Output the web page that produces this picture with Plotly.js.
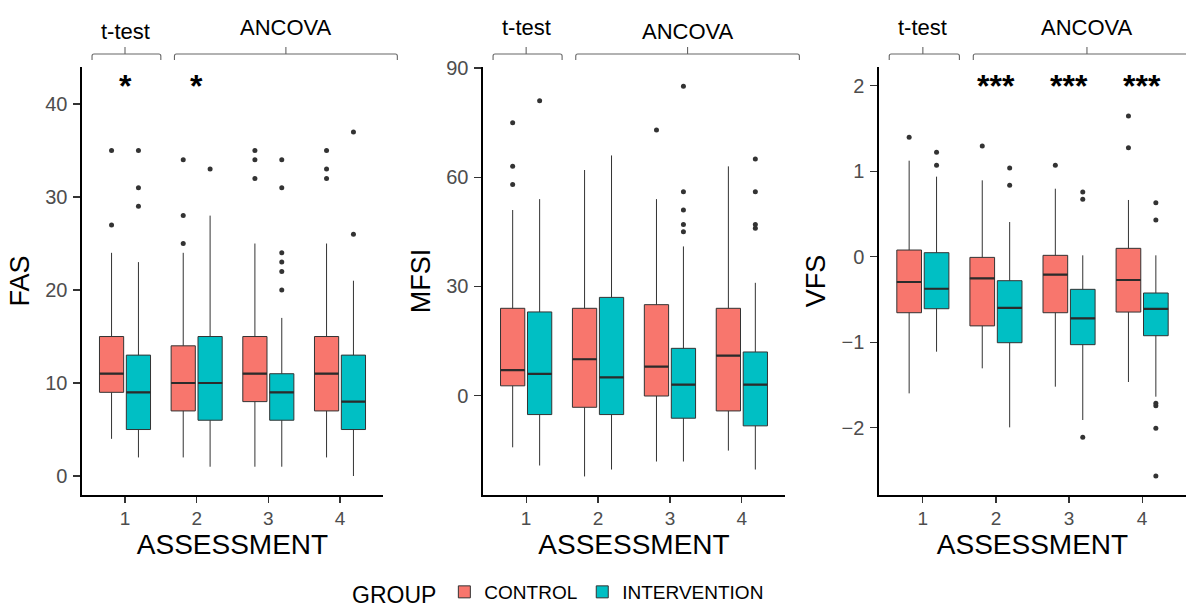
<!DOCTYPE html>
<html><head><meta charset="utf-8">
<script src="https://cdn.plot.ly/plotly-3.0.1.min.js"></script>
<style>html,body{margin:0;padding:0;background:#fff}#chart{width:1186px;height:607px}</style>
</head><body><div id="chart"></div>
<script>
// ---------- data ----------
const assessments = [1, 2, 3, 4];
const groupNames = ['CONTROL', 'INTERVENTION'];

// FAS
const fasControlQ1 = [9, 7, 8, 7];
const fasControlMedian = [11, 10, 11, 11];
const fasControlQ3 = [15, 14, 15, 15];
const fasControlLower = [4, 2, 1, 2];
const fasControlUpper = [24, 24, 25, 25];
const fasControlOutliers = [[35, 27], [34, 28, 25], [35, 34, 32], [35, 33, 32]];
const fasInterQ1 = [5, 6, 6, 5];
const fasInterMedian = [9, 10, 9, 8];
const fasInterQ3 = [13, 15, 11, 13];
const fasInterLower = [2, 1, 1, 0];
const fasInterUpper = [23, 28, 17, 21];
const fasInterOutliers = [[35, 31, 29], [33], [34, 31, 24, 23, 22, 20], [37, 26]];
const fasSignif = ['*', '*', '', ''];

// MFSI
const mfsiControlQ1 = [2.7, -3.2, -0.1, -4.2];
const mfsiControlMedian = [7, 10, 8, 11];
const mfsiControlQ3 = [24, 24, 25, 24];
const mfsiControlLower = [-14.2, -22.2, -18.1, -15.1];
const mfsiControlUpper = [51, 62, 54, 63];
const mfsiControlOutliers = [[75, 63, 58], [], [73], []];
const mfsiInterQ1 = [-5.2, -5.2, -6.2, -8.3];
const mfsiInterMedian = [6, 5, 3, 3];
const mfsiInterQ3 = [23, 27, 13, 12];
const mfsiInterLower = [-19.2, -20.3, -18.1, -20.3];
const mfsiInterUpper = [54, 66, 41, 31];
const mfsiInterOutliers = [[81], [], [85, 56, 51, 47, 45], [65, 56, 47, 46]];
const mfsiSignif = ['', '', '', ''];

// VFS
const vfsControlQ1 = [-0.656, -0.81, -0.656, -0.648];
const vfsControlMedian = [-0.296, -0.254, -0.21, -0.273];
const vfsControlQ3 = [0.078, -0.008, 0.016, 0.098];
const vfsControlLower = [-1.60, -1.307, -1.522, -1.467];
const vfsControlUpper = [1.124, 0.894, 0.796, 0.664];
const vfsControlOutliers = [[1.398], [1.296], [1.07], [1.648, 1.277]];
const vfsInterQ1 = [-0.609, -1.007, -1.03, -0.925];
const vfsInterMedian = [-0.375, -0.60, -0.722, -0.612];
const vfsInterQ3 = [0.047, -0.281, -0.382, -0.425];
const vfsInterLower = [-1.112, -1.998, -1.912, -1.639];
const vfsInterUpper = [0.937, 0.406, 0.016, 0.016];
const vfsInterOutliers = [[1.222, 1.07], [1.039, 0.836], [0.758, 0.672, -2.115], [0.632, 0.43, -1.717, -1.745, -2.009, -2.568]];
const vfsSignif = ['', '***', '***', '***'];

const testLabels = ['t-test', 'ANCOVA'];

// ---------- styling / layout helpers ----------
const W = 1186, H = 607;
const FONT = 'Liberation Sans, Arial, sans-serif';
const fillColors = ['#F8766D', '#00BFC4'];
const px = v => v / W;
const py = v => 1 - v / H;

const panels = [
  { key: 'FAS', title: 'FAS', xd: [82, 383], range: [-2.04, 43.98], tickvals: [0, 10, 20, 30, 40], starY: 42.6, signif: fasSignif,
    ctrl: [fasControlQ1, fasControlMedian, fasControlQ3, fasControlLower, fasControlUpper, fasControlOutliers],
    intv: [fasInterQ1, fasInterMedian, fasInterQ3, fasInterLower, fasInterUpper, fasInterOutliers],
    labY: [31, 27] },
  { key: 'MFSI', title: 'MFSI', xd: [483, 785], range: [-27.3, 90.3], tickvals: [0, 30, 60, 90], starY: 86, signif: mfsiSignif,
    ctrl: [mfsiControlQ1, mfsiControlMedian, mfsiControlQ3, mfsiControlLower, mfsiControlUpper, mfsiControlOutliers],
    intv: [mfsiInterQ1, mfsiInterMedian, mfsiInterQ3, mfsiInterLower, mfsiInterUpper, mfsiInterOutliers],
    labY: [27, 31] },
  { key: 'VFS', title: 'VFS', xd: [879, 1186], range: [-2.79, 2.221], tickvals: [-2, -1, 0, 1, 2], starY: 2.07, signif: vfsSignif,
    ctrl: [vfsControlQ1, vfsControlMedian, vfsControlQ3, vfsControlLower, vfsControlUpper, vfsControlOutliers],
    intv: [vfsInterQ1, vfsInterMedian, vfsInterQ3, vfsInterLower, vfsInterUpper, vfsInterOutliers],
    labY: [28, 27] }
];

const yDomain = [py(495), py(67)];
const XR = [0.4, 4.6];
const traces = [];
const annotations = [];
const shapes = [];
const layout = {
  width: W, height: H,
  margin: { l: 0, r: 0, t: 0, b: 0, autoexpand: false },
  paper_bgcolor: '#fff', plot_bgcolor: '#fff',
  font: { family: FONT, color: '#000' },
  boxmode: 'group', boxgap: 0.25, boxgroupgap: 0.1,
  showlegend: true,
  legend: {
    orientation: 'h', x: px(350), xanchor: 'left', y: py(593), yanchor: 'middle',
    title: { text: 'GROUP', font: { size: 23, color: '#000' }, side: 'left' },
    font: { size: 19, color: '#000' }, itemwidth: 30, bgcolor: 'rgba(0,0,0,0)'
  },
  annotations, shapes
};

panels.forEach((p, k) => {
  const n = k === 0 ? '' : String(k + 1);
  const xa = 'x' + n, ya = 'y' + n;
  const dom = [px(p.xd[0]), px(p.xd[1])];
  layout['xaxis' + n] = {
    domain: dom, range: XR, anchor: ya, tickmode: 'array', tickvals: assessments, ticktext: assessments.map(String),
    showline: true, linecolor: '#000', linewidth: 1.6, mirror: false, showgrid: false, zeroline: false,
    ticks: 'outside', ticklen: 6, tickwidth: 1.2, tickcolor: '#333', ticklabelstandoff: 0,
    tickfont: { size: 19, color: '#4d4d4d', family: FONT },
    title: { text: 'ASSESSMENT', font: { size: 28, color: '#000', family: FONT }, standoff: 1 },
    fixedrange: true
  };
  layout['yaxis' + n] = {
    domain: yDomain, range: p.range, anchor: xa, tickmode: 'array', tickvals: p.tickvals,
    showline: true, linecolor: '#000', linewidth: 1.6, showgrid: false, zeroline: false,
    ticks: 'outside', ticklen: 7, tickwidth: 1.2, tickcolor: '#333', ticklabelstandoff: 2,
    tickfont: { size: 20, color: '#4d4d4d', family: FONT },
    title: { text: p.title, font: { size: 27, color: '#000', family: FONT }, standoff: 8 },
    fixedrange: true
  };
  [p.ctrl, p.intv].forEach((s, g) => {
    traces.push({
      type: 'box', name: groupNames[g], legendgroup: groupNames[g], showlegend: k === 0,
      alignmentgroup: p.key, offsetgroup: groupNames[g],
      xaxis: xa, yaxis: ya, x: assessments,
      q1: s[0], median: s[1], q3: s[2], lowerfence: s[3], upperfence: s[4],
      y: s[5], boxpoints: 'outliers', jitter: 0, pointpos: 0,
      fillcolor: fillColors[g], line: { color: '#333333', width: 1 }, whiskerwidth: 0,
      marker: { color: '#333333', size: 5 }, hoverinfo: 'skip'
    });
  });
  // thicker median bars (ggplot-style), drawn from the median arrays
  [p.ctrl, p.intv].forEach((s, g) => {
    traces.push({
      type: 'box', name: groupNames[g] + ' median', legendgroup: groupNames[g], showlegend: false,
      alignmentgroup: p.key, offsetgroup: groupNames[g],
      xaxis: xa, yaxis: ya, x: assessments,
      q1: s[1], median: s[1], q3: s[1], lowerfence: s[1], upperfence: s[1],
      boxpoints: false, fillcolor: 'rgba(0,0,0,0)', line: { color: '#2b2b2b', width: 2.2 }, whiskerwidth: 0,
      hoverinfo: 'skip'
    });
  });
  // significance markers
  p.signif.forEach((t, i) => {
    if (!t) return;
    annotations.push({ xref: xa, yref: ya, x: assessments[i], y: p.starY, text: '<b>' + t + '</b>', showarrow: false,
      font: { size: 32, color: '#000', family: FONT }, yanchor: 'middle', xanchor: 'center', yshift: -6 });
  });
  // brackets (t-test: assessment 1 ; ANCOVA: assessments 2-4)
  const toPx = v => p.xd[0] + (v - XR[0]) / (XR[1] - XR[0]) * (p.xd[1] - p.xd[0]);
  const spans = [[0.54, 1.5], [1.69, 4.8]];
  spans.forEach((sp, j) => {
    const a = toPx(sp[0]), b = toPx(sp[1]), c = (a + b) / 2;
    const cx = j === 0 ? toPx(assessments[0]) : c;
    shapes.push({ type: 'path', xref: 'paper', yref: 'paper',
      path: `M ${px(a)} ${py(60)} L ${px(a)} ${py(56)} Q ${px(a)} ${py(54)} ${px(a + 2)} ${py(54)} L ${px(b - 2)} ${py(54)} Q ${px(b)} ${py(54)} ${px(b)} ${py(56)} L ${px(b)} ${py(60)} M ${px(cx)} ${py(54)} L ${px(cx)} ${py(47)}`,
      line: { color: '#666', width: 1.1 } });
    annotations.push({ xref: 'paper', yref: 'paper', x: px(cx), y: py(p.labY[j]), text: testLabels[j], showarrow: false,
      font: { size: 22, color: '#000', family: FONT }, xanchor: 'center', yanchor: 'middle' });
  });
});

Plotly.newPlot('chart', traces, layout, { displayModeBar: false, staticPlot: true });
</script>
</body></html>
